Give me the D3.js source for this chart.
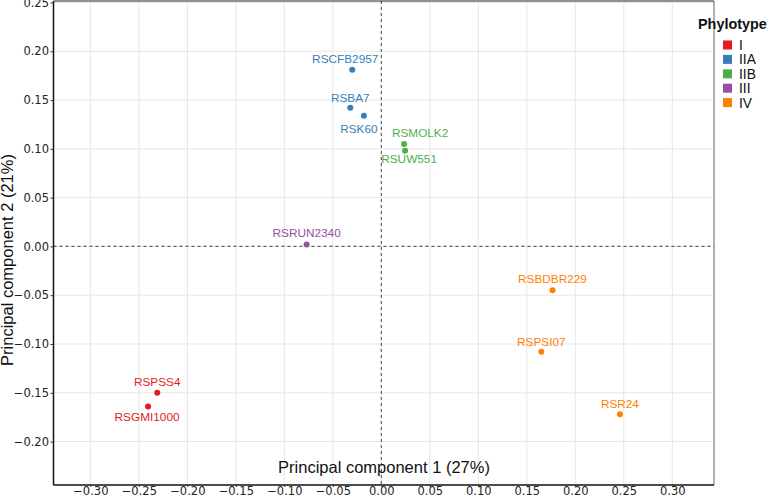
<!DOCTYPE html>
<html><head><meta charset="utf-8">
<script src="https://cdn.jsdelivr.net/npm/d3@7"></script>
<style>body{margin:0;background:#fff;}svg{display:block;}</style>
</head><body>
<script>
// ---- data ----
const strains   = ["RSCFB2957","RSBA7","RSK60","RSMOLK2","RSUW551","RSRUN2340","RSBDBR229","RSPSI07","RSR24","RSPSS4","RSGMI1000"];
const phylotype = ["IIA","IIA","IIA","IIB","IIB","III","IV","IV","IV","I","I"];
const pc1       = [-0.030,-0.032,-0.018,0.0235,0.0245,-0.077,0.1765,0.165,0.246,-0.231,-0.2405];
const pc2       = [0.181,0.142,0.134,0.105,0.098,0.002,-0.045,-0.108,-0.172,-0.150,-0.164];
const groups    = ["I","IIA","IIB","III","IV"];
const groupColors = ["#E41A1C","#377EB8","#4DAF4A","#984EA3","#FF7F00"];
const xTicks    = [-0.30,-0.25,-0.20,-0.15,-0.10,-0.05,0.00,0.05,0.10,0.15,0.20,0.25,0.30];
const yTicks    = [-0.20,-0.15,-0.10,-0.05,0.00,0.05,0.10,0.15,0.20,0.25];
// label placement (pixel offsets from point, like repelled labels)
const labelDx   = [-7,0,-5,16,4,0,0,0,0,0,-1];
const labelDy   = [-7,-6,17,-7,12,-7,-7,-6,-6,-7,14.5];

const W=768,H=495;
const svg=d3.select("body").append("svg").attr("width",W).attr("height",H);
const L=53.5,R=714,T=1,B=485;
const x=d3.scaleLinear().domain([-0.338,0.343]).range([L,R]);
const y=d3.scaleLinear().domain([-0.2445,0.2515]).range([B,T]);
const color=d3.scaleOrdinal().domain(groups).range(groupColors);
const fmt=d => d3.format(".2f")(d).replace("-","\u2212");

// grid
const g=svg.append("g");
g.selectAll("line.gx").data(xTicks).join("line").attr("x1",d=>x(d)).attr("x2",d=>x(d)).attr("y1",T).attr("y2",B)
 .attr("stroke","#e6e6e6").attr("stroke-width",1);
g.selectAll("line.gy").data(yTicks).join("line").attr("y1",d=>y(d)).attr("y2",d=>y(d)).attr("x1",L).attr("x2",R)
 .attr("stroke","#e6e6e6").attr("stroke-width",1);

// dashed zero lines
svg.append("line").attr("x1",x(0)).attr("x2",x(0)).attr("y1",T).attr("y2",B)
 .attr("stroke","#666").attr("stroke-width",1.2).attr("stroke-dasharray","3,3");
svg.append("line").attr("x1",L).attr("x2",R).attr("y1",y(0)).attr("y2",y(0))
 .attr("stroke","#666").attr("stroke-width",1.2).attr("stroke-dasharray","3,3");

// border
svg.append("line").attr("x1",R).attr("x2",R).attr("y1",T).attr("y2",B).attr("stroke","#999").attr("stroke-width",1.5);
svg.append("line").attr("x1",L).attr("x2",R).attr("y1",T).attr("y2",T).attr("stroke","#222").attr("stroke-width",1.2);

// axes
const xa=svg.append("g").attr("transform",`translate(0,${B})`)
 .call(d3.axisBottom(x).tickValues(xTicks).tickFormat(fmt).tickSize(2).tickSizeOuter(0).tickPadding(0));
const ya=svg.append("g").attr("transform",`translate(${L},0)`)
 .call(d3.axisLeft(y).tickValues(yTicks).tickFormat(fmt).tickSize(3).tickSizeOuter(0).tickPadding(1.5));
[xa,ya].forEach(a=>{
  a.select(".domain").attr("stroke","#111").attr("stroke-width",1.5);
  a.selectAll(".tick line").attr("stroke","#333");
  a.selectAll("text").attr("font-family","DejaVu Sans, sans-serif").attr("font-size","11.5px").attr("fill","#222");
});
xa.select(".domain").attr("d",`M${L},0H${R}`);
ya.select(".domain").attr("d",`M0,${T}V${B}`);

// axis titles
svg.append("text").attr("x",384).attr("y",473).attr("text-anchor","middle")
 .attr("font-family","Liberation Sans, Arial, sans-serif").attr("font-size","16.5px").attr("fill","#111")
 .text("Principal component 1 (27%)");
svg.append("text").attr("transform","translate(13,260) rotate(-90)").attr("text-anchor","middle")
 .attr("font-family","Liberation Sans, Arial, sans-serif").attr("font-size","16.5px").attr("fill","#111")
 .text("Principal component 2 (21%)");

// points
const idx=d3.range(strains.length);
svg.selectAll("circle.pt").data(idx).join("circle")
 .attr("cx",i=>x(pc1[i])).attr("cy",i=>y(pc2[i])).attr("r",3)
 .attr("fill",i=>color(phylotype[i]));
svg.selectAll("text.lbl").data(idx).join("text")
 .attr("x",i=>x(pc1[i])+labelDx[i]).attr("y",i=>y(pc2[i])+labelDy[i])
 .attr("text-anchor","middle").attr("font-family","Liberation Sans, Arial, sans-serif").attr("font-size","11.8px")
 .attr("fill",i=>color(phylotype[i])).text(i=>strains[i]);

// legend
const lg=svg.append("g");
lg.append("text").attr("x",698).attr("y",29).attr("font-family","Liberation Sans, Arial, sans-serif")
 .attr("font-weight","bold").attr("font-size","14.4px").attr("fill","#111").text("Phylotype");
groups.forEach((k,i)=>{
  const cy=45+i*14.4;
  lg.append("rect").attr("x",723).attr("y",cy-4.5).attr("width",9).attr("height",9).attr("fill",color(k));
  lg.append("text").attr("x",739).attr("y",cy+5).attr("font-family","Liberation Sans, Arial, sans-serif")
   .attr("font-size","13.8px").attr("fill","#111").text(k);
});
</script>
</body></html>
